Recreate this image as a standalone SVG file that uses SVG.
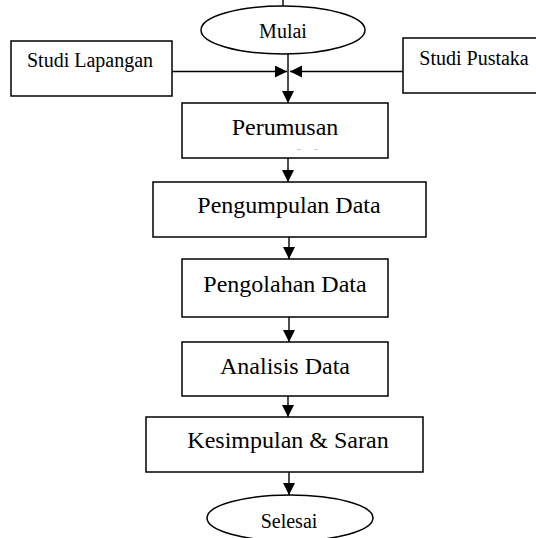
<svg xmlns="http://www.w3.org/2000/svg" width="536" height="538" viewBox="0 0 536 538">
<defs>
<style>
.box{fill:#fff;stroke:#000;stroke-width:1.5}
.el{fill:#fff;stroke:#000;stroke-width:1.5}
.t{font-family:"Liberation Serif","Times New Roman",serif;fill:#000;text-anchor:middle}
.s20{font-size:20px}
.s24{font-size:24px}
.c{stroke:#000;stroke-width:1.4;fill:none}
</style>
<marker id="ah" markerUnits="userSpaceOnUse" markerWidth="13" markerHeight="13" refX="12" refY="6" orient="auto">
<path d="M0,0 L12,6 L0,12 Z" fill="#000"/>
</marker>
<clipPath id="clipPer"><rect x="182" y="103" width="206" height="46.2"/></clipPath>
</defs>
<rect width="536" height="538" fill="#fff"/>
<g id="connectors">
<line class="c" x1="283" y1="0" x2="283" y2="6"/>
<line class="c" x1="172" y1="71.5" x2="287" y2="71.5" marker-end="url(#ah)"/>
<line class="c" x1="403" y1="71.5" x2="290" y2="71.5" marker-end="url(#ah)"/>
<line class="c" x1="288" y1="54" x2="288" y2="103" marker-end="url(#ah)"/>
<line class="c" x1="288" y1="158" x2="288" y2="182" marker-end="url(#ah)"/>
<line class="c" x1="289" y1="237" x2="289" y2="259" marker-end="url(#ah)"/>
<line class="c" x1="289" y1="317" x2="289" y2="342" marker-end="url(#ah)"/>
<line class="c" x1="288" y1="396" x2="288" y2="417" marker-end="url(#ah)"/>
<line class="c" x1="289" y1="472" x2="289" y2="495" marker-end="url(#ah)"/>
</g>
<g id="mulai">
<ellipse class="el" cx="283" cy="30" rx="82" ry="24"/>
<text class="t s20" x="283" y="38">Mulai</text>
</g>
<g id="studi-lapangan">
<rect class="box" x="11" y="41" width="161" height="55"/>
<text class="t s20" x="90" y="67">Studi Lapangan</text>
</g>
<g id="studi-pustaka">
<rect class="box" x="403" y="38" width="140" height="55"/>
<text class="t s20" x="474" y="65">Studi Pustaka</text>
</g>
<g id="perumusan">
<rect class="box" x="182" y="103" width="206" height="55"/>
<text class="t s24" x="285" y="135">Perumusan</text>
<text class="t s24" x="285" y="165" clip-path="url(#clipPer)">Masalah</text>
</g>
<g id="pengumpulan">
<rect class="box" x="153" y="182" width="273" height="55"/>
<text class="t s24" x="289" y="213">Pengumpulan Data</text>
</g>
<g id="pengolahan">
<rect class="box" x="182" y="259" width="206" height="58"/>
<text class="t s24" x="285" y="292">Pengolahan Data</text>
</g>
<g id="analisis">
<rect class="box" x="182" y="342" width="206" height="54"/>
<text class="t s24" x="285" y="374">Analisis Data</text>
</g>
<g id="kesimpulan">
<rect class="box" x="146" y="417" width="277" height="55"/>
<text class="t s24" x="288" y="448">Kesimpulan &amp; Saran</text>
</g>
<g id="selesai">
<ellipse class="el" cx="290" cy="518" rx="83" ry="23"/>
<text class="t s20" x="289" y="528">Selesai</text>
</g>
</svg>
